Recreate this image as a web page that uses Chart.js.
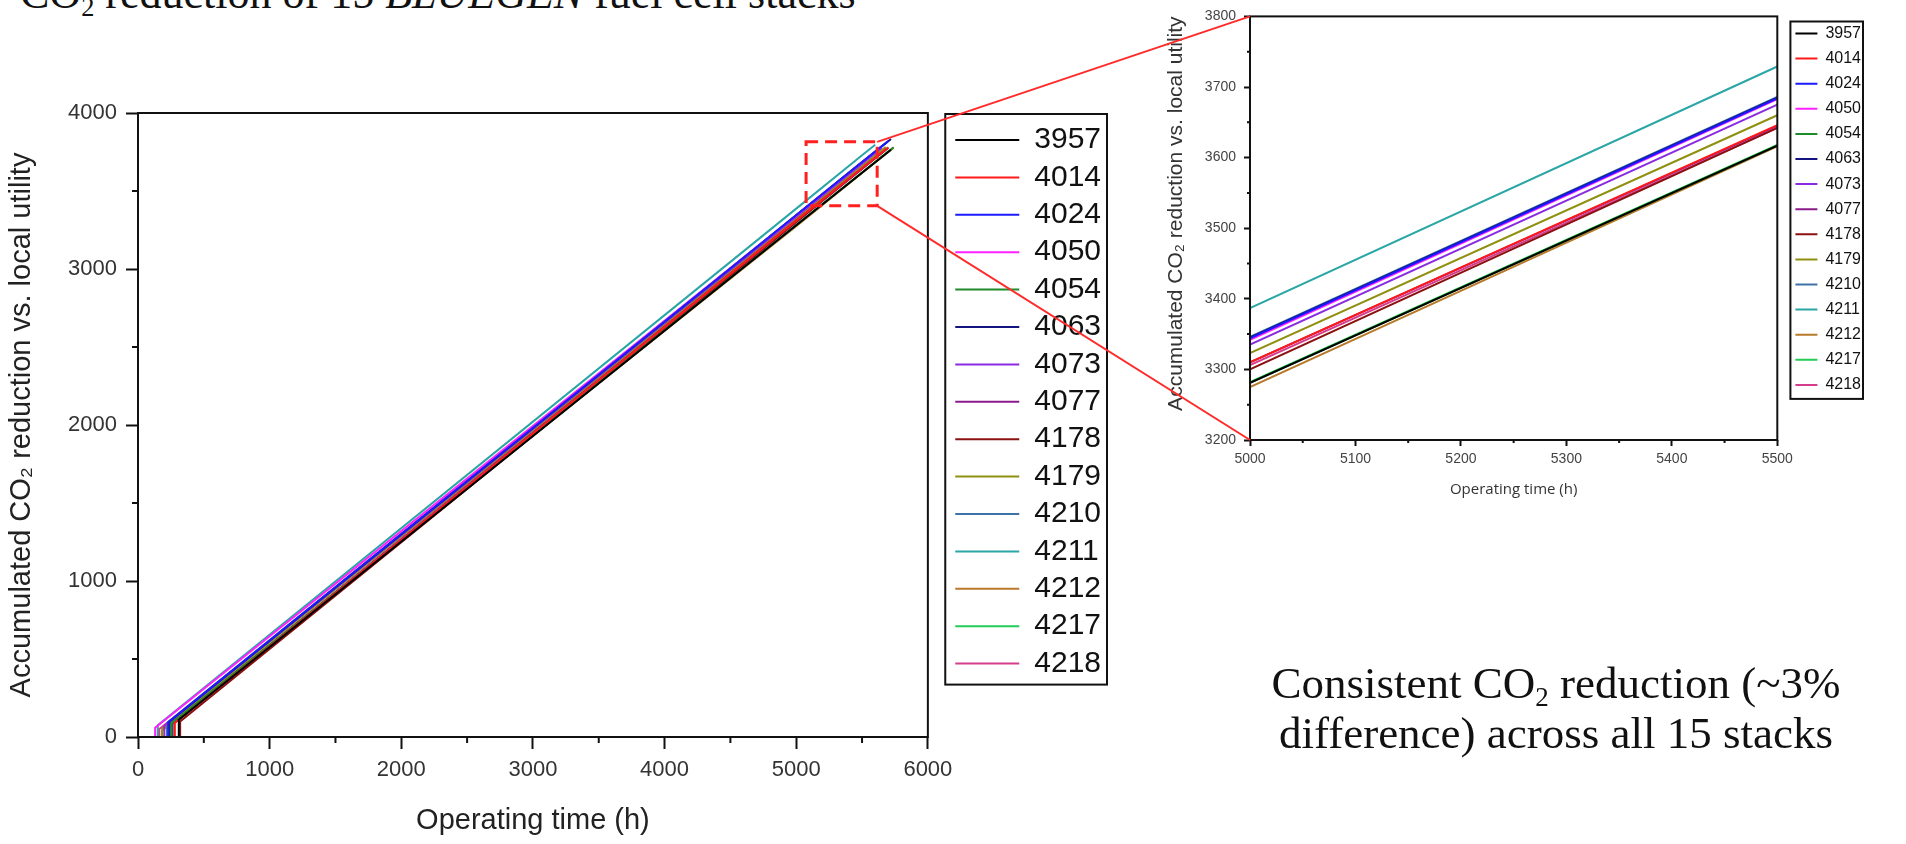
<!DOCTYPE html>
<html>
<head>
<meta charset="utf-8">
<script src="https://cdn.jsdelivr.net/npm/chart.js@4.4.1/dist/chart.umd.min.js"></script>
<style>
  html, body { margin: 0; padding: 0; background: #fff; width: 1906px; height: 844px; overflow: hidden; }
  body { position: relative; }
  #mainChart { position: absolute; left: 0; top: 0; }
  #insetChart { position: absolute; left: 1150px; top: 0; }
  #overlay { position: absolute; left: 0; top: 0; pointer-events: none; }
  .title { position: absolute; left: 20px; top: -32px; font: 44px "Liberation Serif", serif; line-height: 52px; white-space: nowrap; color: #111; }
  .note { position: absolute; left: 1226px; top: 658px; width: 660px; text-align: center; font: 45px "Liberation Serif", serif; line-height: 50px; color: #111; }
  sub { font-size: 0.6em; vertical-align: -0.3em; line-height: 0; }
</style>
</head>
<body>
<div class="title">CO<sub>2</sub> reduction of 15 <i>BLUEGEN</i> fuel cell stacks</div>
<canvas id="mainChart" width="1150" height="844"></canvas>
<canvas id="insetChart" width="756" height="520"></canvas>
<canvas id="overlay" width="1906" height="844"></canvas>
<div class="note">Consistent CO<sub>2</sub> reduction (~3%<br>difference) across all 15 stacks</div>
<script>
// stack ids and colours (Origin default palette)
const stacks = ['3957', '4014', '4024', '4050', '4054', '4063', '4073', '4077', '4178', '4179', '4210', '4211', '4212', '4217', '4218'];
const colors = ['#000000', '#ff1a1a', '#1a1aff', '#ff22ff', '#1f8a2a', '#141480', '#8a2be2', '#8b1a8b', '#8b1010', '#8f8f10', '#3f72a8', '#2aa6a6', '#b87a2a', '#22cc55', '#d63c8c'];

// hours where each stack starts, and the value of the first jump
const startHours = [310, 280, 230, 130, 250, 240, 200, 260, 320, 185, 220, 150, 180, 270, 160];
const startValues = [110, 90, 95, 60, 85, 100, 70, 85, 100, 55, 90, 75, 40, 90, 50];
// readings at 5000 h and 5500 h (from the zoomed plot)
const readHours = [5000, 5500];
const valuesAt5000 = [3281, 3310, 3344, 3342, 3281, 3345, 3335, 3310, 3300, 3323, 3346, 3387, 3275, 3282, 3306];
const valuesAt5500 = [3617, 3646, 3684, 3683, 3617, 3685, 3675, 3645, 3642, 3660, 3686, 3729, 3616, 3618, 3642];
// last point of each curve
const endHours = [5720, 5700, 5700, 5650, 5740, 5720, 5650, 5690, 5700, 5680, 5690, 5600, 5740, 5710, 5680];
const endValues = [3765, 3780, 3820, 3785, 3780, 3833, 3777, 3773, 3777, 3782, 3814, 3797, 3777, 3761, 3764];

// minor tick values
const mainMinorX = [500, 1500, 2500, 3500, 4500, 5500];
const mainMinorY = [500, 1500, 2500, 3500];
const insetMinorX = [5050, 5150, 5250, 5350, 5450];
const insetMinorY = [3250, 3350, 3450, 3550, 3650, 3750];

// region magnified in the inset (drawn as the red dashed box)
const zoomBox = { x0: 5075, x1: 5615, y0: 3405, y1: 3815 };

const yTitle = 'Accumulated CO\u2082 reduction vs. local utility';
const xTitle = 'Operating time (h)';

function seriesPoints(i) {
    return [
        { x: startHours[i], y: 0 },
        { x: startHours[i], y: startValues[i] },
        { x: readHours[0], y: valuesAt5000[i] },
        { x: readHours[1], y: valuesAt5500[i] },
        { x: endHours[i], y: endValues[i] }
    ];
}

function makeDatasets() {
    return stacks.map((s, i) => ({
        label: s,
        data: seriesPoints(i),
        borderColor: colors[i],
        backgroundColor: colors[i],
        borderWidth: 2,
        pointRadius: 0,
        tension: 0
    }));
}

const plainNumber = v => String(v);

const framePlugin = {
    id: 'frame',
    afterDraw(chart) {
        const { ctx, chartArea } = chart;
        ctx.save();
        ctx.strokeStyle = '#111';
        ctx.lineWidth = 2;
        ctx.strokeRect(chartArea.left, chartArea.top, chartArea.right - chartArea.left, chartArea.bottom - chartArea.top);
        ctx.restore();
    }
};

const minorTicksPlugin = {
    id: 'minorTicks',
    afterDraw(chart, args, opts) {
        const { ctx, chartArea } = chart;
        ctx.save();
        ctx.strokeStyle = '#111';
        ctx.lineWidth = opts.width;
        ctx.beginPath();
        opts.x.forEach(v => {
            const px = chart.scales.x.getPixelForValue(v);
            ctx.moveTo(px, chartArea.bottom);
            ctx.lineTo(px, chartArea.bottom + opts.length);
        });
        opts.y.forEach(v => {
            const py = chart.scales.y.getPixelForValue(v);
            ctx.moveTo(chartArea.left, py);
            ctx.lineTo(chartArea.left - opts.length, py);
        });
        ctx.stroke();
        ctx.restore();
    }
};

const legendBoxPlugin = {
    id: 'legendBox',
    afterDraw(chart, args, opts) {
        const boxes = chart.legend.legendHitBoxes;
        if (!boxes || !boxes.length) return;
        const left = Math.min(...boxes.map(b => b.left)) - opts.padL;
        const right = Math.max(...boxes.map(b => b.left + b.width)) + opts.padR;
        const top = Math.min(...boxes.map(b => b.top)) - opts.padT;
        const bottom = Math.max(...boxes.map(b => b.top + b.height)) + opts.padB;
        const ctx = chart.ctx;
        ctx.save();
        ctx.strokeStyle = '#111';
        ctx.lineWidth = opts.width;
        ctx.strokeRect(left, top, right - left, bottom - top);
        ctx.restore();
    }
};

const zoomBoxPlugin = {
    id: 'zoomBox',
    afterDraw(chart, args, opts) {
        if (!opts.show) return;
        const { ctx, scales } = chart;
        const x0 = scales.x.getPixelForValue(zoomBox.x0);
        const x1 = scales.x.getPixelForValue(zoomBox.x1);
        const y0 = scales.y.getPixelForValue(zoomBox.y0);
        const y1 = scales.y.getPixelForValue(zoomBox.y1);
        ctx.save();
        ctx.strokeStyle = '#ff2020';
        ctx.lineWidth = 3;
        ctx.setLineDash([12, 7]);
        ctx.strokeRect(x0, y1, x1 - x0, y0 - y1);
        ctx.restore();
    }
};

function dummyAxis(axis, position, size) {
    return {
        type: 'linear',
        axis: axis,
        position: position,
        display: true,
        ticks: { display: false },
        grid: { display: false },
        border: { display: false },
        afterFit(scale) {
            if (axis === 'x') scale.height = size; else scale.width = size;
        }
    };
}

const sans = 'Liberation Sans, Arial, sans-serif';

const mainChart = new Chart(document.getElementById('mainChart'), {
    type: 'line',
    data: { datasets: makeDatasets() },
    options: {
        responsive: false,
        animation: false,
        events: [],
        layout: { padding: { right: 39 } },
        scales: {
            x: {
                type: 'linear', position: 'bottom', min: 0, max: 6000,
                ticks: { stepSize: 1000, callback: plainNumber, color: '#333', font: { family: sans, size: 22 }, padding: 8, maxRotation: 0, autoSkip: false },
                grid: { drawOnChartArea: false, tickLength: 12, tickWidth: 2, tickColor: '#111' },
                border: { display: false },
                title: { display: true, text: xTitle, color: '#222', font: { family: sans, size: 29 }, padding: { top: 0, bottom: 6 } },
                afterFit(scale) { scale.height = 107; }
            },
            y: {
                type: 'linear', position: 'left', min: 0, max: 4000,
                ticks: { stepSize: 1000, callback: plainNumber, color: '#333', font: { family: sans, size: 22 }, padding: 9 },
                grid: { drawOnChartArea: false, tickLength: 12, tickWidth: 2, tickColor: '#111' },
                border: { display: false },
                title: { display: true, text: yTitle, color: '#222', font: { family: sans, size: 29 }, padding: { top: 5, bottom: 0 } },
                afterFit(scale) { scale.width = 138; }
            },
            xTop: dummyAxis('x', 'top', 113),
            yRight: dummyAxis('y', 'right', 20)
        },
        plugins: {
            tooltip: { enabled: false },
            legend: {
                position: 'right', align: 'start', fullSize: false,
                title: { display: true, text: '', font: { size: 1 }, padding: { top: 3.4, bottom: 0 } },
                labels: {
                    usePointStyle: true, pointStyle: 'line', pointStyleWidth: 64, padding: 7.4,
                    color: '#111', font: { family: sans, size: 30 }
                }
            },
            minorTicks: { x: mainMinorX, y: mainMinorY, length: 6, width: 2 },
            legendBox: { padL: 10, padR: 6, padT: 11, padB: 6, width: 2 },
            zoomBox: { show: true }
        }
    },
    plugins: [framePlugin, minorTicksPlugin, legendBoxPlugin, zoomBoxPlugin]
});

const insetChart = new Chart(document.getElementById('insetChart'), {
    type: 'line',
    data: { datasets: makeDatasets() },
    options: {
        responsive: false,
        animation: false,
        events: [],
        layout: { padding: { right: 35 } },
        scales: {
            x: {
                type: 'linear', position: 'bottom', min: 5000, max: 5500,
                ticks: { stepSize: 100, callback: plainNumber, color: '#444', font: { family: sans, size: 14 }, padding: 5, maxRotation: 0, autoSkip: false },
                grid: { drawOnChartArea: false, tickLength: 6, tickWidth: 2, tickColor: '#111' },
                border: { display: false },
                title: { display: true, text: xTitle, color: '#333', font: { family: 'Open Sans, sans-serif', size: 15 }, padding: { top: 0, bottom: 21 } },
                afterFit(scale) { scale.height = 80; }
            },
            y: {
                type: 'linear', position: 'left', min: 3200, max: 3800,
                ticks: { stepSize: 100, callback: plainNumber, color: '#444', font: { family: sans, size: 14 }, padding: 8 },
                grid: { drawOnChartArea: false, tickLength: 6, tickWidth: 2, tickColor: '#111' },
                border: { display: false },
                title: { display: true, text: yTitle, align: 'end', color: '#333', font: { family: sans, size: 21 }, padding: { top: 14, bottom: 0 } },
                afterFit(scale) { scale.width = 100; }
            },
            xTop: dummyAxis('x', 'top', 10),
            yRight: dummyAxis('y', 'right', 9)
        },
        plugins: {
            tooltip: { enabled: false },
            legend: {
                position: 'right', align: 'start', fullSize: false,
                labels: {
                    usePointStyle: true, pointStyle: 'line', pointStyleWidth: 22, padding: 9.1,
                    color: '#111', font: { family: sans, size: 16 }
                }
            },
            minorTicks: { x: insetMinorX, y: insetMinorY, length: 3, width: 2 },
            legendBox: { padL: 5, padR: 2, padT: 4, padB: 6, width: 2 },
            zoomBox: { show: false }
        }
    },
    plugins: [framePlugin, minorTicksPlugin, legendBoxPlugin, zoomBoxPlugin]
});

// red connector lines from the dashed box to the inset plot
const ov = document.getElementById('overlay').getContext('2d');
const insetCanvas = document.getElementById('insetChart');
const offX = insetCanvas.offsetLeft, offY = insetCanvas.offsetTop;
const bxRight = mainChart.scales.x.getPixelForValue(zoomBox.x1);
const byTop = mainChart.scales.y.getPixelForValue(zoomBox.y1);
const byBottom = mainChart.scales.y.getPixelForValue(zoomBox.y0);
const ia = insetChart.chartArea;
ov.strokeStyle = '#ff2a2a';
ov.lineWidth = 2;
ov.beginPath();
ov.moveTo(bxRight, byTop);
ov.lineTo(offX + ia.left, offY + ia.top);
ov.moveTo(bxRight, byBottom);
ov.lineTo(offX + ia.left, offY + ia.bottom);
ov.stroke();
</script>
</body>
</html>
